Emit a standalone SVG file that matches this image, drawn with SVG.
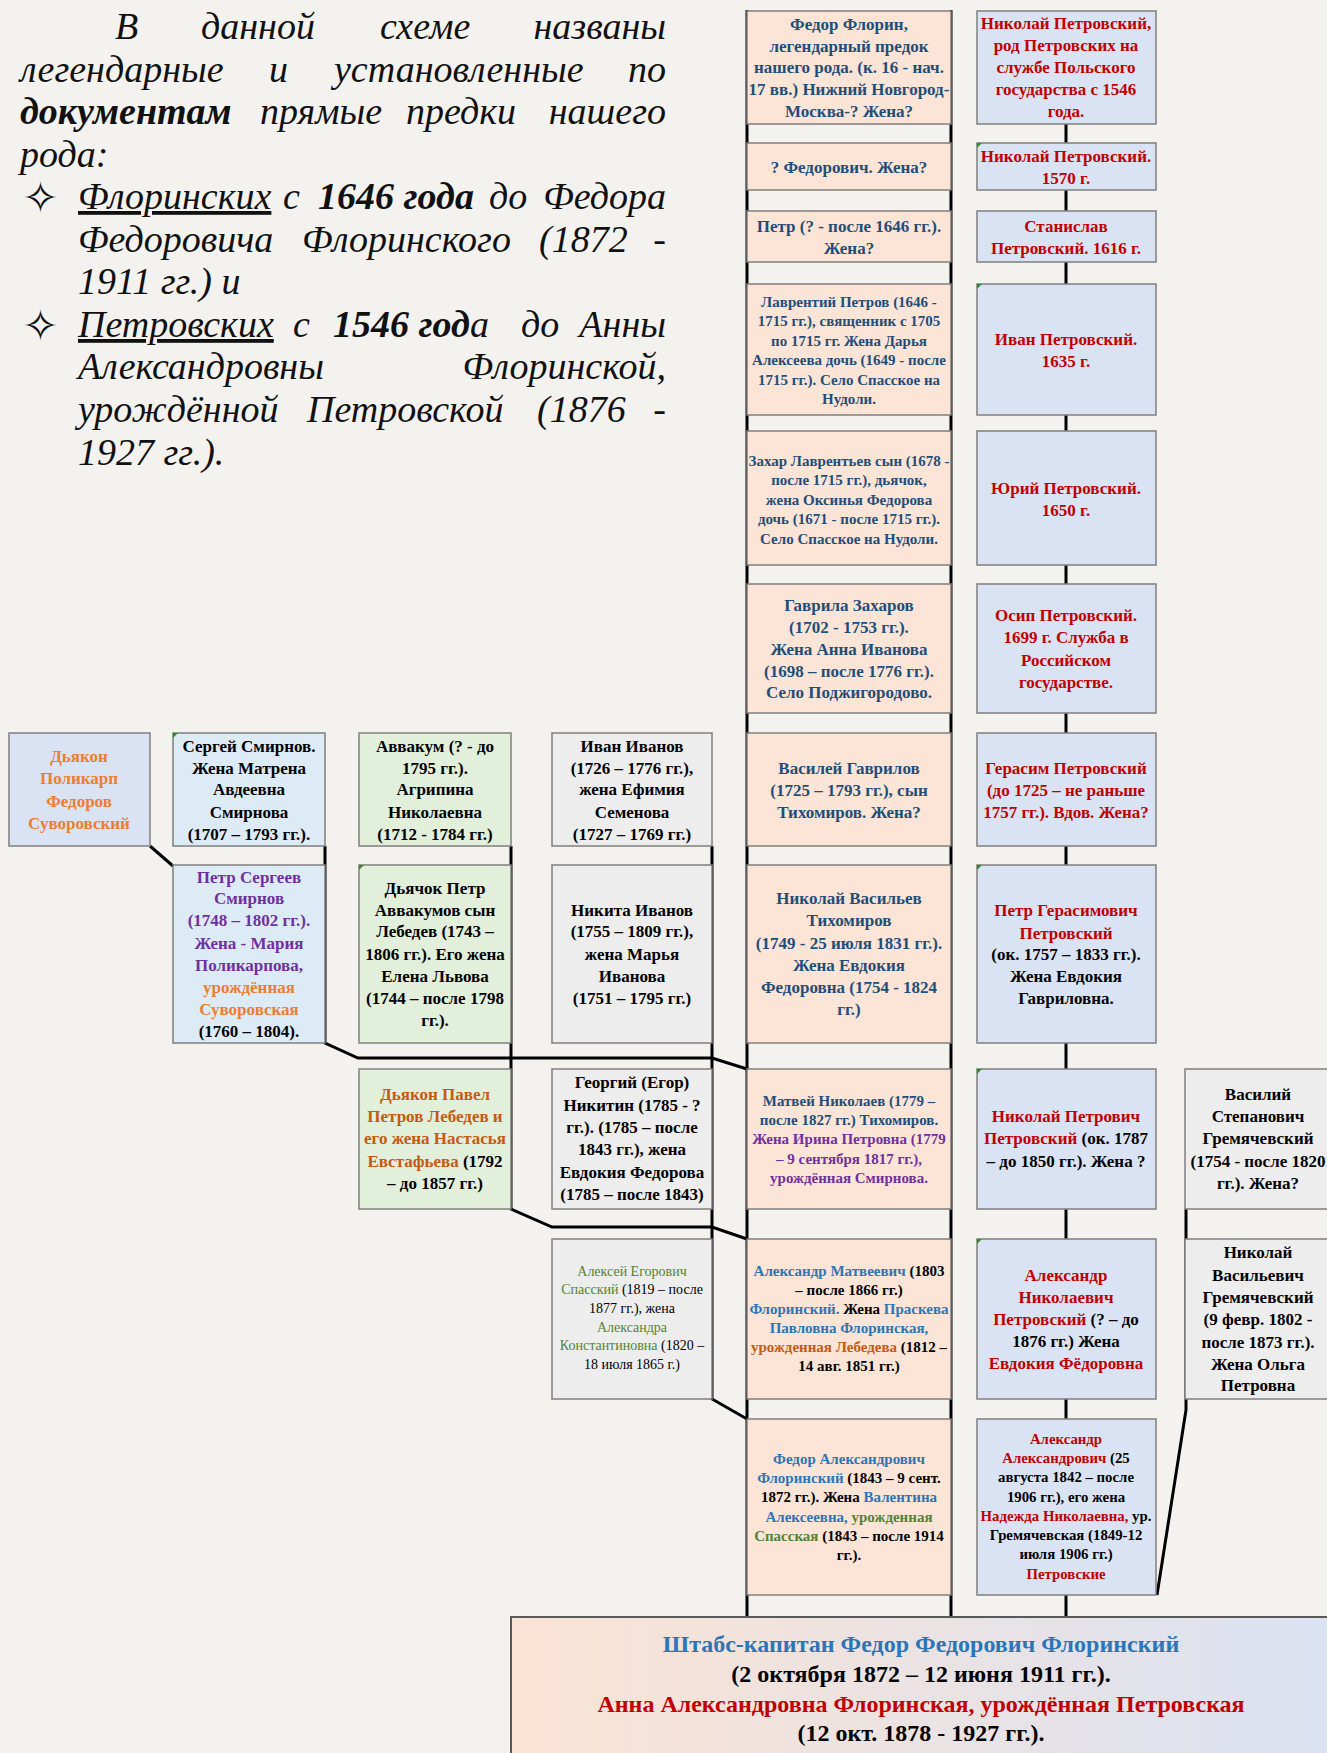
<svg xmlns="http://www.w3.org/2000/svg" width="1327" height="1753" viewBox="0 0 1327 1753">
<defs>
<linearGradient id="gb" x1="0" y1="0" x2="1" y2="0">
<stop offset="0" stop-color="#fbe3d4"/>
<stop offset="1" stop-color="#dae2f2"/>
</linearGradient>
<style>
.bx{stroke:#7f7f7f;stroke-width:1.5}
.sal{fill:#fce4d6}.pet{fill:#dae3f3}.smi{fill:#ddebf7}.grn{fill:#e2efda}.gry{fill:#ededed}
.t{font-family:"Liberation Serif","Times New Roman",serif;font-weight:bold;text-anchor:middle;font-size:17px;fill:#000}
.l17{font-size:17px}.s155{font-size:15px}.s15{font-size:15px}.s148{font-size:14.8px}.s14{font-size:14px}.s24{font-size:24px}.nw{font-weight:normal}
.b{fill:#1f4e79}.r{fill:#c00000}.lb{fill:#2e75b6}.o{fill:#ed7d31}.od{fill:#c55a11}.p{fill:#7030a0}.g{fill:#548235}.k{fill:#000}
.ln{stroke:#000;stroke-width:3;fill:none;stroke-linejoin:miter}
.it{font-family:"Liberation Serif","Times New Roman",serif;font-style:italic;font-size:38px;fill:#111}
.bi{font-weight:bold}
.bul{font-family:"DejaVu Sans",sans-serif;font-size:44px;fill:#111}
.mk{fill:#2e8b2e}
</style>
</defs>
<rect width="1327" height="1753" fill="#f4f2ef"/>

<g id="intro">
<text class="it" x="115" y="39">В</text>
<text class="it" x="201" y="39">данной</text>
<text class="it" x="380" y="39">схеме</text>
<text class="it" x="666" y="39" text-anchor="end">названы</text>
<text class="it" x="20" y="82">легендарные</text>
<text class="it" x="269" y="82">и</text>
<text class="it" x="334" y="82">установленные</text>
<text class="it" x="666" y="82" text-anchor="end">по</text>
<text class="it bi" x="20" y="124">документам</text>
<text class="it" x="260" y="124">прямые</text>
<text class="it" x="406" y="124">предки</text>
<text class="it" x="666" y="124" text-anchor="end">нашего</text>
<text class="it" x="20" y="167">рода:</text>
<text class="bul" x="22" y="213">✧</text>
<text class="it" x="78" y="209" text-decoration="underline">Флоринских</text>
<text class="it" x="283" y="209">с</text>
<text class="it bi" x="318" y="209">1646 года</text>
<text class="it" x="489" y="209">до</text>
<text class="it" x="666" y="209" text-anchor="end">Федора</text>
<text class="it" x="78" y="252">Федоровича</text>
<text class="it" x="302" y="252">Флоринского</text>
<text class="it" x="539" y="252">(1872</text>
<text class="it" x="666" y="252" text-anchor="end">-</text>
<text class="it" x="78" y="294">1911 гг.) и</text>
<text class="bul" x="22" y="341">✧</text>
<text class="it" x="78" y="337" text-decoration="underline">Петровских </text>
<text class="it" x="293" y="337">с</text>
<text class="it" x="333" y="337"><tspan class="bi">1546 год</tspan>а</text>
<text class="it" x="521" y="337">до</text>
<text class="it" x="666" y="337" text-anchor="end">Анны</text>
<text class="it" x="78" y="379">Александровны</text>
<text class="it" x="666" y="379" text-anchor="end">Флоринской,</text>
<text class="it" x="78" y="422">урождённой</text>
<text class="it" x="307" y="422">Петровской</text>
<text class="it" x="537" y="422">(1876</text>
<text class="it" x="666" y="422" text-anchor="end">-</text>
<text class="it" x="78" y="465">1927 гг.).</text>
</g>

<g id="connectors">
<line class="ln" x1="747" y1="10" x2="747" y2="1617"/>
<line class="ln" x1="951" y1="10" x2="951" y2="1617"/>
<path class="ln" d="M1066 124V143M1066 190V211M1066 262V284M1066 415V431M1066 565V584M1066 713V733M1066 846V865M1066 1043V1069M1066 1209V1239M1066 1399V1419M1066 1595V1617"/>
<path class="ln" d="M150 846L173 866"/>
<polyline class="ln" points="325,846 325,1043 358,1058 712,1058 747,1069"/>
<polyline class="ln" points="511,846 511,1209 552,1227 712,1227 747,1239"/>
<polyline class="ln" points="712,846 712,1399 747,1419"/>
<polyline class="ln" points="1186,1209 1186,1410 1157,1595"/>
</g>

<g id="florin-1"><rect class="bx sal" x="747" y="11" width="204" height="113"/>
<text class="t b" x="849" y="30">Федор Флорин,</text>
<text class="t b" x="849" y="52">легендарный предок</text>
<text class="t b" x="849" y="73">нашего рода. (к. 16 - нач.</text>
<text class="t b" x="849" y="95">17 вв.) Нижний Новгород-</text>
<text class="t b" x="849" y="117">Москва-? Жена?</text></g>
<g id="florin-2"><rect class="bx sal" x="747" y="143" width="204" height="47"/>
<text class="t b" x="849" y="173">? Федорович. Жена?</text></g>
<g id="florin-3"><rect class="bx sal" x="747" y="211" width="204" height="51"/>
<text class="t b" x="849" y="232">Петр (? - после 1646 гг.).</text>
<text class="t b" x="849" y="254">Жена?</text></g>
<g id="florin-4"><rect class="bx sal" x="747" y="284" width="204" height="131"/>
<text class="t b s155" x="849" y="307">Лаврентий Петров (1646 -</text>
<text class="t b s155" x="849" y="326">1715 гг.), священник с 1705</text>
<text class="t b s155" x="849" y="346">по 1715 гг. Жена Дарья</text>
<text class="t b s155" x="849" y="365">Алексеева дочь (1649 - после</text>
<text class="t b s155" x="849" y="385">1715 гг.). Село Спасское на</text>
<text class="t b s155" x="849" y="404">Нудоли.</text></g>
<g id="florin-5"><rect class="bx sal" x="747" y="431" width="204" height="134"/>
<text class="t b s155" x="849" y="466">Захар Лаврентьев сын (1678 -</text>
<text class="t b s155" x="849" y="485">после 1715 гг.), дьячок,</text>
<text class="t b s155" x="849" y="505">жена Оксинья Федорова</text>
<text class="t b s155" x="849" y="524">дочь  (1671 - после 1715 гг.).</text>
<text class="t b s155" x="849" y="544">Село Спасское на Нудоли.</text></g>
<g id="florin-6"><rect class="bx sal" x="747" y="584" width="204" height="129"/>
<text class="t b" x="849" y="611">Гаврила Захаров</text>
<text class="t b" x="849" y="633">(1702 - 1753 гг.).</text>
<text class="t b" x="849" y="655">Жена Анна Иванова</text>
<text class="t b" x="849" y="677">(1698 – после 1776 гг.).</text>
<text class="t b" x="849" y="698">Село Поджигородово.</text></g>
<g id="florin-7"><rect class="bx sal" x="747" y="733" width="204" height="113"/>
<text class="t b" x="849" y="774">Василей Гаврилов</text>
<text class="t b" x="849" y="796">(1725 – 1793 гг.), сын</text>
<text class="t b" x="849" y="818">Тихомиров. Жена?</text></g>
<g id="florin-8"><rect class="bx sal" x="747" y="865" width="204" height="178"/>
<text class="t b" x="849" y="904">Николай Васильев</text>
<text class="t b" x="849" y="926">Тихомиров</text>
<text class="t b" x="849" y="949">(1749 - 25 июля 1831 гг.).</text>
<text class="t b" x="849" y="971">Жена Евдокия</text>
<text class="t b" x="849" y="993">Федоровна (1754 - 1824</text>
<text class="t b" x="849" y="1015">гг.)</text></g>
<g id="florin-9"><rect class="bx sal" x="747" y="1069" width="204" height="140"/>
<text class="t b s15" x="849" y="1106">Матвей Николаев (1779 –</text>
<text class="t b s15" x="849" y="1125">после 1827 гг.) Тихомиров.</text>
<text class="t p s15" x="849" y="1144">Жена Ирина Петровна (1779</text>
<text class="t p s15" x="849" y="1164">– 9 сентября 1817 гг.),</text>
<text class="t p s15" x="849" y="1183">урождённая Смирнова.</text></g>
<g id="florin-10"><rect class="bx sal" x="747" y="1239" width="204" height="160"/>
<text class="t s15" x="849" y="1276"><tspan class="lb">Александр Матвеевич</tspan> (1803</text>
<text class="t s15" x="849" y="1295">– после 1866 гг.)</text>
<text class="t s15" x="849" y="1314"><tspan class="lb">Флоринский.</tspan> Жена <tspan class="lb">Праскева</tspan></text>
<text class="t lb s15" x="849" y="1333">Павловна Флоринская,</text>
<text class="t s15" x="849" y="1352"><tspan class="od">урожденная Лебедева</tspan> (1812 –</text>
<text class="t s15" x="849" y="1371">14 авг. 1851 гг.)</text></g>
<g id="florin-11"><rect class="bx sal" x="747" y="1419" width="204" height="176"/>
<text class="t lb s15" x="849" y="1464">Федор Александрович</text>
<text class="t s15" x="849" y="1483"><tspan class="lb">Флоринский</tspan> (1843 – 9 сент.</text>
<text class="t s15" x="849" y="1502">1872 гг.). Жена <tspan class="lb">Валентина</tspan></text>
<text class="t s15" x="849" y="1522"><tspan class="lb">Алексеевна,</tspan> <tspan class="g">урожденная</tspan></text>
<text class="t s15" x="849" y="1541"><tspan class="g">Спасская</tspan> (1843 – после 1914</text>
<text class="t s15" x="849" y="1560">гг.).</text></g>

<g id="petr-1"><rect class="bx pet" x="977" y="11" width="179" height="113"/>
<text class="t r" x="1066" y="29">Николай Петровский,</text>
<text class="t r" x="1066" y="51">род  Петровских на</text>
<text class="t r" x="1066" y="73">службе Польского</text>
<text class="t r" x="1066" y="95">государства  с 1546</text>
<text class="t r" x="1066" y="117">года.</text></g>
<g id="petr-2"><rect class="bx pet" x="977" y="143" width="179" height="47"/>
<text class="t r" x="1066" y="162">Николай Петровский.</text>
<text class="t r" x="1066" y="184">1570 г.</text></g>
<g id="petr-3"><rect class="bx pet" x="977" y="211" width="179" height="51"/>
<text class="t r" x="1066" y="232">Станислав</text>
<text class="t r" x="1066" y="254">Петровский. 1616 г.</text></g>
<g id="petr-4"><rect class="bx pet" x="977" y="284" width="179" height="131"/>
<text class="t r" x="1066" y="345">Иван Петровский.</text>
<text class="t r" x="1066" y="367">1635 г.</text></g>
<g id="petr-5"><rect class="bx pet" x="977" y="431" width="179" height="134"/>
<text class="t r" x="1066" y="494">Юрий Петровский.</text>
<text class="t r" x="1066" y="516">1650 г.</text></g>
<g id="petr-6"><rect class="bx pet" x="977" y="584" width="179" height="129"/>
<text class="t r" x="1066" y="621">Осип Петровский.</text>
<text class="t r" x="1066" y="643">1699 г. Служба в</text>
<text class="t r" x="1066" y="666">Российском</text>
<text class="t r" x="1066" y="688">государстве.</text></g>
<g id="petr-7"><rect class="bx pet" x="977" y="733" width="179" height="113"/>
<text class="t r" x="1066" y="774">Герасим Петровский</text>
<text class="t r" x="1066" y="796">(до 1725 – не раньше</text>
<text class="t r" x="1066" y="818">1757 гг.). Вдов. Жена?</text></g>
<g id="petr-8"><rect class="bx pet" x="977" y="865" width="179" height="178"/>
<text class="t r" x="1066" y="916">Петр Герасимович</text>
<text class="t r" x="1066" y="939">Петровский</text>
<text class="t" x="1066" y="960">(ок. 1757 – 1833 гг.).</text>
<text class="t" x="1066" y="982">Жена Евдокия</text>
<text class="t" x="1066" y="1004">Гавриловна.</text></g>
<g id="petr-9"><rect class="bx pet" x="977" y="1069" width="179" height="140"/>
<text class="t r" x="1066" y="1122">Николай Петрович</text>
<text class="t" x="1066" y="1144"><tspan class="r">Петровский</tspan> (ок. 1787</text>
<text class="t" x="1066" y="1167">– до 1850 гг.). Жена ?</text></g>
<g id="petr-10"><rect class="bx pet" x="977" y="1239" width="179" height="160"/>
<text class="t r" x="1066" y="1281">Александр</text>
<text class="t r" x="1066" y="1303">Николаевич</text>
<text class="t" x="1066" y="1325"><tspan class="r">Петровский</tspan> (? – до</text>
<text class="t" x="1066" y="1347">1876 гг.) Жена</text>
<text class="t r" x="1066" y="1369">Евдокия Фёдоровна</text></g>
<g id="petr-11"><rect class="bx pet" x="977" y="1419" width="179" height="176"/>
<text class="t r s148" x="1066" y="1444">Александр</text>
<text class="t s148" x="1066" y="1463"><tspan class="r">Александрович</tspan> (25</text>
<text class="t s148" x="1066" y="1482">августа 1842 – после</text>
<text class="t s148" x="1066" y="1502">1906 гг.), его жена</text>
<text class="t s148" x="1066" y="1521"><tspan class="r">Надежда Николаевна,</tspan> ур.</text>
<text class="t s148" x="1066" y="1540">Гремячевская (1849-12</text>
<text class="t s148" x="1066" y="1559">июля 1906 гг.)</text>
<text class="t r s148" x="1066" y="1579">Петровские</text></g>

<g id="grem-1"><rect class="bx gry" x="1185" y="1069" width="150" height="140"/>
<text class="t" x="1258" y="1100">Василий</text>
<text class="t" x="1258" y="1122">Степанович</text>
<text class="t" x="1258" y="1144">Гремячевский</text>
<text class="t" x="1258" y="1167">(1754 - после 1820</text>
<text class="t" x="1258" y="1189">гг.). Жена?</text></g>
<g id="grem-2"><rect class="bx gry" x="1185" y="1239" width="150" height="160"/>
<text class="t" x="1258" y="1258">Николай</text>
<text class="t" x="1258" y="1281">Васильевич</text>
<text class="t" x="1258" y="1303">Гремячевский</text>
<text class="t" x="1258" y="1325">(9 февр. 1802 -</text>
<text class="t" x="1258" y="1348">после 1873 гг.).</text>
<text class="t" x="1258" y="1370">Жена Ольга</text>
<text class="t" x="1258" y="1391">Петровна</text></g>

<g id="suvorovsky"><rect class="bx pet" x="9" y="733" width="141" height="113"/>
<text class="t o l17" x="79" y="762">Дьякон</text>
<text class="t o l17" x="79" y="784">Поликарп</text>
<text class="t o l17" x="79" y="807">Федоров</text>
<text class="t o l17" x="79" y="829">Суворовский</text></g>
<g id="smirnov-1"><rect class="bx smi" x="173" y="733" width="152" height="113"/>
<text class="t l17" x="249" y="752">Сергей Смирнов.</text>
<text class="t l17" x="249" y="774">Жена Матрена</text>
<text class="t l17" x="249" y="795">Авдеевна</text>
<text class="t l17" x="249" y="818">Смирнова</text>
<text class="t l17" x="249" y="840">(1707 – 1793 гг.).</text></g>
<g id="smirnov-2"><rect class="bx smi" x="173" y="865" width="152" height="178"/>
<text class="t p l17" x="249" y="883">Петр Сергеев</text>
<text class="t p l17" x="249" y="904">Смирнов</text>
<text class="t p l17" x="249" y="926">(1748 – 1802 гг.).</text>
<text class="t p l17" x="249" y="949">Жена - Мария</text>
<text class="t p l17" x="249" y="971">Поликарпова,</text>
<text class="t o l17" x="249" y="993">урождённая</text>
<text class="t o l17" x="249" y="1015">Суворовская</text>
<text class="t l17" x="249" y="1037">(1760 – 1804).</text></g>
<g id="lebedev-1"><rect class="bx grn" x="359" y="733" width="152" height="113"/>
<text class="t l17" x="435" y="752">Аввакум (? - до</text>
<text class="t l17" x="435" y="774">1795 гг.).</text>
<text class="t l17" x="435" y="795">Агрипина</text>
<text class="t l17" x="435" y="818">Николаевна</text>
<text class="t l17" x="435" y="840">(1712 - 1784 гг.)</text></g>
<g id="lebedev-2"><rect class="bx grn" x="359" y="865" width="152" height="178"/>
<text class="t l17" x="435" y="894">Дьячок Петр</text>
<text class="t l17" x="435" y="916">Аввакумов сын</text>
<text class="t l17" x="435" y="937">Лебедев (1743 –</text>
<text class="t l17" x="435" y="960">1806 гг.). Его жена</text>
<text class="t l17" x="435" y="982">Елена Львова</text>
<text class="t l17" x="435" y="1004">(1744 – после 1798</text>
<text class="t l17" x="435" y="1026">гг.).</text></g>
<g id="lebedev-3"><rect class="bx grn" x="359" y="1069" width="152" height="140"/>
<text class="t od l17" x="435" y="1100">Дьякон Павел</text>
<text class="t od l17" x="435" y="1122">Петров Лебедев  и</text>
<text class="t od l17" x="435" y="1144">его жена Настасья</text>
<text class="t l17" x="435" y="1167"><tspan class="od">Евстафьева</tspan> (1792</text>
<text class="t l17" x="435" y="1189">– до 1857 гг.)</text></g>
<g id="spassky-1"><rect class="bx gry" x="552" y="733" width="160" height="113"/>
<text class="t l17" x="632" y="752">Иван Иванов</text>
<text class="t l17" x="632" y="774">(1726 –  1776 гг.),</text>
<text class="t l17" x="632" y="795">жена Ефимия</text>
<text class="t l17" x="632" y="818">Семенова</text>
<text class="t l17" x="632" y="840">(1727 – 1769 гг.)</text></g>
<g id="spassky-2"><rect class="bx gry" x="552" y="865" width="160" height="178"/>
<text class="t l17" x="632" y="916">Никита Иванов</text>
<text class="t l17" x="632" y="937">(1755 – 1809 гг.),</text>
<text class="t l17" x="632" y="960">жена Марья</text>
<text class="t l17" x="632" y="982">Иванова</text>
<text class="t l17" x="632" y="1004">(1751 –  1795 гг.)</text></g>
<g id="spassky-3"><rect class="bx gry" x="552" y="1069" width="160" height="140"/>
<text class="t l17" x="632" y="1088">Георгий (Егор)</text>
<text class="t l17" x="632" y="1111">Никитин (1785 - ?</text>
<text class="t l17" x="632" y="1133">гг.). (1785 – после</text>
<text class="t l17" x="632" y="1155">1843 гг.), жена</text>
<text class="t l17" x="632" y="1178">Евдокия Федорова</text>
<text class="t l17" x="632" y="1200">(1785 – после 1843)</text></g>
<g id="spassky-4"><rect class="bx gry" x="552" y="1239" width="160" height="160"/>
<text class="t g s14 nw" x="632" y="1276">Алексей Егорович</text>
<text class="t s14 nw" x="632" y="1294"><tspan class="g">Спасский</tspan> (1819 – после</text>
<text class="t s14 nw" x="632" y="1313">1877 гг.), жена</text>
<text class="t g s14 nw" x="632" y="1332">Александра</text>
<text class="t s14 nw" x="632" y="1350"><tspan class="g">Константиновна</tspan> (1820 –</text>
<text class="t s14 nw" x="632" y="1369">18 июля 1865 г.)</text></g>

<g id="markers">
<polygon class="mk" points="977,143 982,143 977,148"/>
<polygon class="mk" points="977,284 982,284 977,289"/>
<polygon class="mk" points="977,865 982,865 977,870"/>
<polygon class="mk" points="977,1069 982,1069 977,1074"/>
<polygon class="mk" points="977,1239 982,1239 977,1244"/>
<polygon class="mk" points="173,733 178,733 173,738"/>
<polygon class="mk" points="359,865 364,865 359,870"/>
</g>

<g id="final"><rect x="511" y="1617" width="830" height="150" fill="url(#gb)" stroke="#595959" stroke-width="2"/>
<text class="t lb s24" x="921" y="1652">Штабс-капитан Федор Федорович Флоринский</text>
<text class="t s24" x="921" y="1682">(2 октября 1872 – 12 июня 1911 гг.).</text>
<text class="t r s24" x="921" y="1712">Анна Александровна Флоринская, урождённая Петровская</text>
<text class="t s24" x="921" y="1741">(12 окт. 1878 - 1927 гг.).</text></g>
</svg>
